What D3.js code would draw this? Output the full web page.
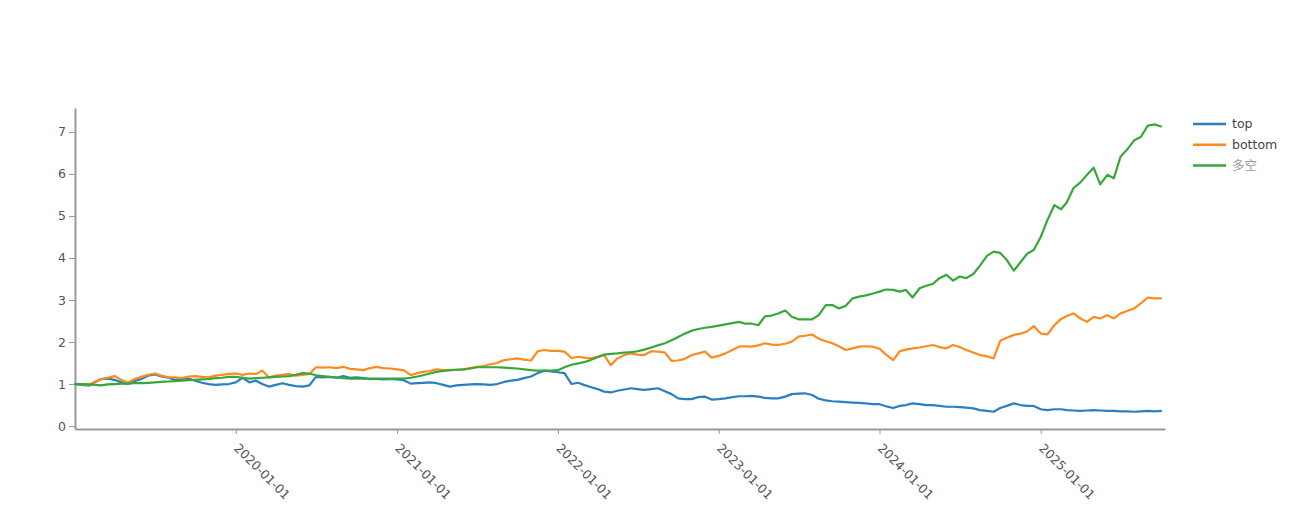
<!DOCTYPE html>
<html><head><meta charset="utf-8">
<script src="https://cdn.jsdelivr.net/npm/d3@7"></script>
<style>
html,body{margin:0;padding:0;background:#fff;}
svg{display:block;font-family:"DejaVu Sans",sans-serif;}
</style></head><body>
<svg id="chart" width="1296" height="525"></svg>
<script>
const dates = [
"2019-01-01","2019-01-16","2019-02-01","2019-02-16","2019-03-01","2019-03-16","2019-04-01","2019-04-16","2019-05-01","2019-05-16","2019-06-01","2019-06-16","2019-07-01","2019-07-16","2019-08-01","2019-08-16","2019-09-01","2019-09-16","2019-10-01","2019-10-16","2019-11-01","2019-11-16","2019-12-01","2019-12-16",
"2020-01-01","2020-01-16","2020-02-01","2020-02-16","2020-03-01","2020-03-16","2020-04-01","2020-04-16","2020-05-01","2020-05-16","2020-06-01","2020-06-16","2020-07-01","2020-07-16","2020-08-01","2020-08-16","2020-09-01","2020-09-16","2020-10-01","2020-10-16","2020-11-01","2020-11-16","2020-12-01","2020-12-16",
"2021-01-01","2021-01-16","2021-02-01","2021-02-16","2021-03-01","2021-03-16","2021-04-01","2021-04-16","2021-05-01","2021-05-16","2021-06-01","2021-06-16","2021-07-01","2021-07-16","2021-08-01","2021-08-16","2021-09-01","2021-09-16","2021-10-01","2021-10-16","2021-11-01","2021-11-16","2021-12-01","2021-12-16",
"2022-01-01","2022-01-16","2022-02-01","2022-02-16","2022-03-01","2022-03-16","2022-04-01","2022-04-16","2022-05-01","2022-05-16","2022-06-01","2022-06-16","2022-07-01","2022-07-16","2022-08-01","2022-08-16","2022-09-01","2022-09-16","2022-10-01","2022-10-16","2022-11-01","2022-11-16","2022-12-01","2022-12-16",
"2023-01-01","2023-01-16","2023-02-01","2023-02-16","2023-03-01","2023-03-16","2023-04-01","2023-04-16","2023-05-01","2023-05-16","2023-06-01","2023-06-16","2023-07-01","2023-07-16","2023-08-01","2023-08-16","2023-09-01","2023-09-16","2023-10-01","2023-10-16","2023-11-01","2023-11-16","2023-12-01","2023-12-16",
"2024-01-01","2024-01-16","2024-02-01","2024-02-16","2024-03-01","2024-03-16","2024-04-01","2024-04-16","2024-05-01","2024-05-16","2024-06-01","2024-06-16","2024-07-01","2024-07-16","2024-08-01","2024-08-16","2024-09-01","2024-09-16","2024-10-01","2024-10-16","2024-11-01","2024-11-16","2024-12-01","2024-12-16",
"2025-01-01","2025-01-16","2025-02-01","2025-02-16","2025-03-01","2025-03-16","2025-04-01","2025-04-16","2025-05-01","2025-05-16","2025-06-01","2025-06-16","2025-07-01","2025-07-16","2025-08-01","2025-08-16","2025-09-01","2025-09-16","2025-10-01"
];

const topValues = [
1.00,0.98, 0.96,1.05, 1.12,1.13, 1.10,1.04, 1.00,1.07, 1.12,1.20, 1.23,1.18, 1.15,1.10, 1.12,1.13, 1.08,1.03, 1.00,0.98, 0.99,1.00,
1.04,1.15, 1.04,1.08, 1.00,0.94, 0.98,1.02, 0.98,0.95, 0.94,0.97, 1.17,1.16, 1.17,1.15, 1.19,1.15, 1.16,1.14, 1.12,1.12, 1.11,1.12,
1.11,1.09, 1.01,1.02, 1.03,1.04, 1.02,0.98, 0.94,0.97, 0.98,0.99, 1.00,0.99, 0.98,1.00, 1.05,1.08, 1.10,1.14, 1.18,1.26, 1.32,1.30,
1.28,1.26, 1.00,1.03, 0.98,0.93, 0.88,0.82, 0.80,0.84, 0.87,0.90, 0.88,0.86, 0.88,0.90, 0.83,0.76, 0.66,0.64, 0.64,0.69, 0.70,0.63,
0.64,0.66, 0.69,0.71, 0.71,0.72, 0.70,0.67, 0.66,0.66, 0.70,0.76, 0.77,0.78, 0.74,0.65, 0.61,0.59, 0.58,0.57, 0.56,0.55, 0.54,0.52,
0.52,0.47, 0.43,0.48, 0.50,0.54, 0.52,0.50, 0.50,0.48, 0.46,0.46, 0.45,0.44, 0.42,0.38, 0.36,0.34, 0.43,0.48, 0.54,0.50, 0.48,0.48,
0.40,0.38, 0.40,0.40, 0.38,0.37, 0.36,0.37, 0.38,0.37, 0.36,0.36, 0.35,0.35, 0.34,0.35, 0.36,0.35, 0.36
];

const bottomValues = [
1.00,1.00, 0.98,1.06, 1.11,1.15, 1.19,1.10, 1.03,1.12, 1.17,1.22, 1.25,1.20, 1.16,1.16, 1.14,1.18, 1.19,1.17, 1.16,1.20, 1.22,1.24,
1.25,1.22, 1.25,1.24, 1.32,1.16, 1.20,1.22, 1.24,1.20, 1.22,1.24, 1.40,1.39, 1.40,1.38, 1.41,1.36, 1.35,1.33, 1.38,1.41, 1.38,1.37,
1.35,1.33, 1.21,1.26, 1.29,1.31, 1.35,1.33, 1.33,1.34, 1.35,1.38, 1.41,1.43, 1.47,1.50, 1.57,1.59, 1.61,1.58, 1.56,1.78, 1.81,1.79,
1.79,1.77, 1.62,1.65, 1.63,1.61, 1.65,1.69, 1.45,1.61, 1.69,1.73, 1.70,1.69, 1.78,1.77, 1.75,1.55, 1.56,1.60, 1.69,1.73, 1.77,1.63,
1.67,1.73, 1.81,1.89, 1.90,1.89, 1.92,1.97, 1.94,1.93, 1.96,2.01, 2.13,2.15, 2.18,2.08, 2.02,1.97, 1.90,1.81, 1.85,1.89, 1.90,1.89,
1.84,1.70, 1.57,1.78, 1.82,1.85, 1.87,1.90, 1.93,1.88, 1.85,1.93, 1.88,1.81, 1.75,1.69, 1.66,1.61, 2.03,2.10, 2.17,2.20, 2.25,2.38,
2.20,2.18, 2.40,2.55, 2.62,2.68, 2.56,2.48, 2.60,2.56, 2.64,2.56, 2.68,2.74, 2.80,2.92, 3.06,3.04, 3.04
];

const longShortValues = [
1.00,1.00, 0.99,0.98, 0.97,0.99, 1.00,1.01, 1.01,1.02, 1.02,1.03, 1.04,1.05, 1.06,1.07, 1.08,1.09, 1.10,1.11, 1.12,1.14, 1.15,1.17,
1.17,1.15, 1.13,1.14, 1.15,1.16, 1.17,1.18, 1.19,1.22, 1.26,1.25, 1.21,1.19, 1.17,1.16, 1.14,1.13, 1.13,1.13, 1.13,1.13, 1.13,1.13,
1.13,1.13, 1.15,1.18, 1.21,1.25, 1.29,1.31, 1.33,1.34, 1.35,1.37, 1.40,1.40, 1.40,1.40, 1.39,1.38, 1.37,1.35, 1.33,1.32, 1.32,1.32,
1.33,1.40, 1.46,1.49, 1.52,1.57, 1.64,1.70, 1.72,1.73, 1.75,1.76, 1.78,1.82, 1.87,1.92, 1.97,2.04, 2.12,2.20, 2.27,2.31, 2.34,2.36,
2.39,2.42, 2.45,2.48, 2.44,2.44, 2.40,2.61, 2.63,2.68, 2.75,2.60, 2.54,2.54, 2.54,2.64, 2.88,2.88, 2.80,2.86, 3.04,3.08, 3.11,3.15,
3.20,3.25, 3.24,3.20, 3.24,3.06, 3.28,3.34, 3.38,3.52, 3.60,3.46, 3.56,3.52, 3.62,3.82, 4.05,4.15, 4.12,3.95, 3.70,3.90, 4.10,4.19,
4.50,4.90, 5.26,5.16, 5.32,5.66, 5.80,5.98, 6.15,5.75, 5.98,5.90, 6.41,6.58, 6.80,6.88, 7.15,7.18, 7.13
];

const seriesNames = ["top", "bottom", "多空"];
const seriesValues = [topValues, bottomValues, longShortValues];
const seriesColors = ["#2a7fc1", "#ff8a1f", "#36a83a"];
const yTicks = [0, 1, 2, 3, 4, 5, 6, 7];
const xTicks = ["2020-01-01", "2021-01-01", "2022-01-01", "2023-01-01", "2024-01-01", "2025-01-01"];
const xDomain = ["2019-01-01", "2025-10-10"];
const yDomain = [-0.07, 7.57];

const parse = d3.timeParse("%Y-%m-%d");
const svg = d3.select("#chart");

const x = d3.scaleTime().domain(xDomain.map(parse)).range([75, 1165]);
const y = d3.scaleLinear().domain(yDomain).range([429, 108]);

// x axis
const xAxis = svg.append("g").attr("transform", "translate(0,429)")
  .call(d3.axisBottom(x).tickValues(xTicks.map(parse)).tickFormat(d3.timeFormat("%Y-%m-%d")).tickSize(5).tickSizeOuter(0));
xAxis.select(".domain").attr("stroke", "#999").attr("stroke-width", 2);
xAxis.selectAll(".tick line").attr("stroke", "#999");
xAxis.selectAll(".tick text")
  .attr("x", 0).attr("y", 0).attr("dy", 0)
  .attr("text-anchor", "start")
  .attr("transform", "translate(-3,20) rotate(45)")
  .attr("fill", "#555").attr("font-size", 12.5).attr("font-family", "DejaVu Sans, sans-serif");

// y axis
const yAxis = svg.append("g").attr("transform", "translate(75,0)")
  .call(d3.axisLeft(y).tickValues(yTicks).tickFormat(d3.format("d")).tickSize(6).tickPadding(3).tickSizeOuter(0));
yAxis.select(".domain").attr("stroke", "#999").attr("stroke-width", 2);
yAxis.selectAll(".tick line").attr("stroke", "#999");
yAxis.selectAll(".tick text").attr("fill", "#555").attr("font-size", 12.5).attr("font-family", "DejaVu Sans, sans-serif");

// lines
const line = d3.line().x(d => x(d.date)).y(d => y(d.v));
seriesValues.forEach((vals, i) => {
  const pts = dates.map((d, j) => ({date: parse(d), v: vals[j]})).filter(p => p.v !== undefined);
  svg.append("path").datum(pts)
    .attr("fill", "none").attr("stroke", seriesColors[i]).attr("stroke-width", 2.2)
    .attr("stroke-linejoin", "round").attr("stroke-linecap", "round")
    .attr("d", line);
});

// legend
const legend = svg.append("g");
seriesNames.forEach((name, i) => {
  const yy = 124 + i * 20.7;
  legend.append("line").attr("x1", 1193).attr("x2", 1226).attr("y1", yy).attr("y2", yy)
    .attr("stroke", seriesColors[i]).attr("stroke-width", 2.5);
  legend.append("text").attr("x", 1232).attr("y", yy).attr("dy", "0.35em")
    .attr("font-size", 12.5)
    .attr("font-family", i === 2 ? "Noto Sans CJK SC, sans-serif" : "DejaVu Sans, sans-serif")
    .attr("fill", i === 2 ? "#999" : "#444")
    .text(name);
});
</script>
</body></html>
